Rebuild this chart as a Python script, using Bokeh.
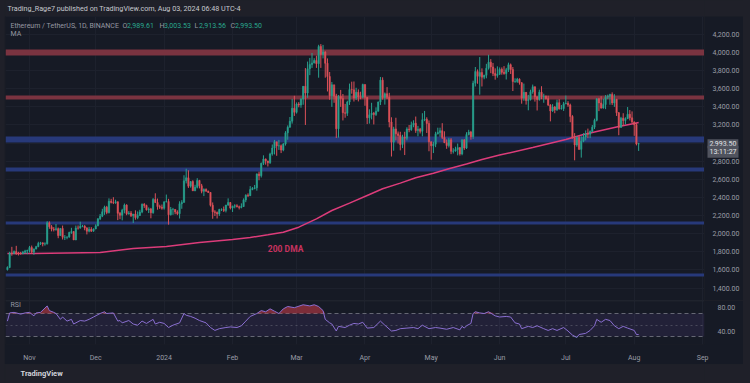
import pandas as pd
import numpy as np
from bokeh.plotting import figure
from bokeh.layouts import column, row
from bokeh.models import (ColumnDataSource, Range1d, FixedTicker, NumeralTickFormatter,
                          Label, Span, GlobalInlineStyleSheet)
from bokeh.core.properties import value
from bokeh.embed import file_html
from bokeh.resources import INLINE

# ---------------- data: ETH/USDT daily candles (high, low, close) ----------------
first_open = 1604.0
oct_2023 = [(1640, 1593, 1628), (1800, 1620, 1786), (1855, 1757, 1785), (1815, 1773, 1803),
            (1866, 1766, 1782), (1800, 1760, 1778), (1800, 1770, 1777), (1810, 1775, 1795),
            (1822, 1782, 1810), (1824, 1774, 1815)]
nov_2023 = [(1865, 1792, 1847), (1869, 1776, 1797), (1836, 1767, 1832), (1866, 1826, 1857),
            (1911, 1851, 1893), (1910, 1875, 1899), (1904, 1860, 1886), (1905, 1868, 1888),
            (2138, 1880, 2121), (2136, 2054, 2077), (2095, 2026, 2051), (2073, 2025, 2045),
            (2107, 2033, 2055), (2068, 1950, 1979), (2062, 1975, 2058), (2090, 1936, 1960),
            (1985, 1930, 1960), (1972, 1939, 1963), (2022, 1955, 2013), (2065, 1998, 2023),
            (2028, 1930, 1931), (2090, 1929, 2063), (2091, 2045, 2062), (2132, 2055, 2081),
            (2097, 2072, 2084), (2094, 2038, 2063), (2072, 1992, 2028), (2075, 2015, 2048),
            (2072, 2020, 2028), (2058, 2022, 2052)]
dec_2023 = [(2104, 2050, 2087), (2170, 2082, 2165), (2218, 2150, 2193), (2275, 2183, 2242),
            (2309, 2208, 2293), (2307, 2215, 2233), (2390, 2223, 2358), (2385, 2334, 2345),
            (2403, 2327, 2341), (2375, 2330, 2353), (2355, 2150, 2225), (2240, 2160, 2203),
            (2275, 2147, 2260), (2333, 2225, 2316), (2325, 2204, 2220), (2250, 2210, 2228),
            (2250, 2185, 2197), (2217, 2118, 2217), (2258, 2155, 2178), (2246, 2160, 2201),
            (2264, 2195, 2239), (2333, 2226, 2326), (2337, 2285, 2311), (2320, 2255, 2264),
            (2290, 2228, 2274), (2285, 2170, 2232), (2393, 2220, 2378), (2446, 2338, 2345),
            (2388, 2265, 2300), (2320, 2273, 2292), (2322, 2265, 2281)]
jan_2024 = [(2355, 2265, 2352), (2432, 2345, 2355), (2385, 2100, 2210), (2295, 2200, 2268),
            (2285, 2208, 2268), (2270, 2215, 2240), (2258, 2205, 2221), (2358, 2168, 2330),
            (2370, 2275, 2345), (2645, 2345, 2584), (2717, 2555, 2617), (2700, 2505, 2525),
            (2580, 2508, 2575), (2590, 2472, 2473), (2540, 2470, 2512), (2613, 2500, 2587),
            (2594, 2500, 2529), (2550, 2446, 2468), (2500, 2415, 2489), (2500, 2460, 2470),
            (2475, 2450, 2455), (2460, 2300, 2314), (2345, 2165, 2241), (2260, 2195, 2235),
            (2245, 2168, 2218), (2275, 2196, 2267), (2280, 2250, 2268), (2300, 2240, 2257),
            (2318, 2235, 2317), (2390, 2307, 2344), (2350, 2268, 2283)]
feb_2024 = [(2310, 2240, 2304), (2325, 2280, 2309), (2325, 2290, 2297), (2310, 2268, 2290),
            (2335, 2280, 2300), (2390, 2295, 2373), (2435, 2348, 2425), (2445, 2405, 2420),
            (2525, 2415, 2487), (2515, 2480, 2500), (2538, 2490, 2507), (2665, 2475, 2660),
            (2685, 2590, 2640), (2785, 2620, 2777), (2865, 2758, 2825), (2830, 2762, 2803),
            (2805, 2742, 2784), (2894, 2770, 2880), (2985, 2862, 2945), (3035, 2875, 3015),
            (3015, 2860, 2969), (3035, 2925, 2970), (2985, 2890, 2923), (3000, 2910, 2991),
            (3132, 2973, 3113), (3195, 3037, 3175), (3288, 3170, 3242), (3488, 3215, 3385),
            (3522, 3300, 3340)]
mar_2024 = [(3449, 3326, 3432), (3452, 3395, 3420), (3495, 3390, 3487), (3630, 3423, 3627),
            (3828, 3200, 3553), (3900, 3500, 3820), (3940, 3750, 3867), (3995, 3830, 3885),
            (3937, 3880, 3912), (3965, 3830, 3877), (4085, 3722, 4066), (4093, 3830, 3979),
            (4084, 3935, 4005), (4014, 3722, 3881), (3935, 3570, 3735), (3785, 3478, 3523),
            (3675, 3400, 3644), (3611, 3445, 3518), (3544, 3056, 3158), (3530, 3060, 3516),
            (3587, 3400, 3492), (3542, 3250, 3335), (3433, 3280, 3329), (3468, 3300, 3454),
            (3657, 3421, 3591), (3678, 3545, 3588), (3680, 3459, 3497), (3611, 3475, 3561),
            (3593, 3460, 3509), (3567, 3484, 3507), (3656, 3494, 3647)]
apr_2024 = [(3647, 3412, 3505), (3505, 3210, 3279), (3373, 3215, 3312), (3445, 3262, 3329),
            (3344, 3206, 3317), (3395, 3300, 3351), (3459, 3349, 3454), (3730, 3420, 3695),
            (3726, 3480, 3503), (3559, 3425, 3545), (3618, 3485, 3505), (3555, 3174, 3233),
            (3285, 2852, 3010), (3180, 2916, 3157), (3280, 3030, 3102), (3128, 2995, 3084),
            (3125, 2920, 2985), (3092, 2945, 3065), (3125, 2868, 3054), (3175, 3030, 3156),
            (3200, 3120, 3148), (3237, 3135, 3201), (3252, 3175, 3219), (3293, 3113, 3138),
            (3190, 3075, 3154), (3168, 3106, 3130), (3330, 3075, 3257), (3355, 3242, 3263),
            (3285, 3112, 3216), (3250, 2910, 3014)]
may_2024 = [(3020, 2817, 2970), (3015, 2890, 2988), (3125, 2955, 3103), (3170, 3095, 3117),
            (3170, 3070, 3137), (3220, 3045, 3063), (3130, 3000, 3005), (3040, 2937, 2973),
            (3058, 2952, 3036), (3055, 2878, 2910), (2944, 2885, 2912), (2960, 2905, 2930),
            (2995, 2865, 2950), (2955, 2862, 2881), (3040, 2866, 3037), (3042, 2925, 2945),
            (3120, 2935, 3094), (3147, 3085, 3122), (3135, 3038, 3071), (3689, 3046, 3662),
            (3840, 3625, 3790), (3813, 3655, 3737), (3950, 3535, 3779), (3825, 3625, 3728),
            (3755, 3705, 3748), (3875, 3715, 3826), (3975, 3811, 3893), (3927, 3772, 3841),
            (3885, 3740, 3768), (3825, 3700, 3747), (3847, 3722, 3760)]
jun_2024 = [(3835, 3752, 3814), (3835, 3755, 3781), (3850, 3755, 3767), (3830, 3702, 3810),
            (3888, 3785, 3865), (3878, 3763, 3812), (3840, 3575, 3680), (3715, 3665, 3680),
            (3720, 3665, 3706), (3715, 3645, 3667), (3672, 3435, 3497), (3657, 3467, 3560),
            (3563, 3425, 3469), (3532, 3362, 3480), (3590, 3470, 3566), (3646, 3545, 3622),
            (3625, 3458, 3512), (3515, 3360, 3482), (3590, 3468, 3562), (3628, 3485, 3515),
            (3545, 3445, 3518), (3525, 3480, 3491), (3523, 3410, 3420), (3430, 3240, 3354),
            (3430, 3345, 3398), (3410, 3330, 3368), (3480, 3355, 3446), (3485, 3370, 3378),
            (3420, 3370, 3381), (3455, 3355, 3434)]
jul_2024 = [(3525, 3430, 3440), (3463, 3400, 3420), (3435, 3230, 3295), (3308, 3050, 3058),
            (3110, 2810, 2980), (3075, 2960, 3063), (3080, 2925, 2931), (3075, 2840, 3021),
            (3110, 3010, 3066), (3140, 3030, 3101), (3160, 3055, 3098), (3140, 3055, 3129),
            (3200, 3120, 3176), (3270, 3155, 3251), (3495, 3240, 3489), (3500, 3353, 3443),
            (3518, 3380, 3387), (3490, 3380, 3425), (3530, 3375, 3507), (3535, 3485, 3517),
            (3545, 3423, 3536), (3560, 3420, 3443), (3540, 3400, 3483), (3488, 3300, 3335),
            (3343, 3087, 3173), (3290, 3170, 3275), (3330, 3190, 3249), (3285, 3205, 3270),
            (3398, 3265, 3319), (3365, 3250, 3279), (3350, 3220, 3232)]
aug_2024 = [(3240, 3080, 3203), (3220, 2975, 2989.61), (3003.53, 2913.56, 2993.50)]

month_blocks = [("2023-10-22", oct_2023), ("2023-11-01", nov_2023), ("2023-12-01", dec_2023),
                ("2024-01-01", jan_2024), ("2024-02-01", feb_2024), ("2024-03-01", mar_2024),
                ("2024-04-01", apr_2024), ("2024-05-01", may_2024), ("2024-06-01", jun_2024),
                ("2024-07-01", jul_2024), ("2024-08-01", aug_2024)]

# 200-day moving average
dma_dates = ["2023-10-22", "2023-11-03", "2023-12-03", "2023-12-18", "2024-01-02", "2024-01-17",
             "2024-02-01", "2024-02-09", "2024-02-17", "2024-02-24", "2024-03-02", "2024-03-10",
             "2024-03-17", "2024-03-25", "2024-04-02", "2024-04-09", "2024-04-17", "2024-04-24",
             "2024-05-02", "2024-05-09", "2024-05-17", "2024-05-24", "2024-06-01", "2024-06-16",
             "2024-07-01", "2024-07-09", "2024-07-17", "2024-07-25", "2024-08-01", "2024-08-03"]
dma_values = [1781, 1781, 1792, 1837, 1859, 1903, 1936, 1958, 1988, 2017, 2072, 2164,
              2256, 2337, 2422, 2496, 2558, 2617, 2668, 2716, 2770, 2820, 2868, 2951,
              3040, 3095, 3139, 3183, 3216, 3227]

# RSI(14)
rsi_dates = ["2023-10-22", "2023-10-23", "2023-10-25", "2023-10-28", "2023-10-30",
             "2023-11-01", "2023-11-03", "2023-11-04", "2023-11-06", "2023-11-09", "2023-11-10",
             "2023-11-12", "2023-11-13", "2023-11-15", "2023-11-16", "2023-11-18", "2023-11-20",
             "2023-11-21", "2023-11-24", "2023-11-26", "2023-11-28", "2023-11-30",
             "2023-12-03", "2023-12-05", "2023-12-06", "2023-12-09", "2023-12-11", "2023-12-12",
             "2023-12-13", "2023-12-16", "2023-12-18", "2023-12-20", "2023-12-22", "2023-12-24",
             "2023-12-27", "2023-12-28", "2023-12-30",
             "2024-01-01", "2024-01-03", "2024-01-05", "2024-01-08", "2024-01-10", "2024-01-11",
             "2024-01-13", "2024-01-15", "2024-01-17", "2024-01-20", "2024-01-22", "2024-01-24",
             "2024-01-26", "2024-01-29", "2024-01-31",
             "2024-02-03", "2024-02-05", "2024-02-07", "2024-02-09", "2024-02-12", "2024-02-14",
             "2024-02-16", "2024-02-18", "2024-02-20", "2024-02-22", "2024-02-24", "2024-02-26",
             "2024-02-29",
             "2024-03-04", "2024-03-07", "2024-03-09", "2024-03-11", "2024-03-13", "2024-03-14",
             "2024-03-16", "2024-03-17", "2024-03-19", "2024-03-20", "2024-03-23", "2024-03-25",
             "2024-03-27", "2024-03-29", "2024-03-31",
             "2024-04-02", "2024-04-05", "2024-04-08", "2024-04-10", "2024-04-13", "2024-04-15",
             "2024-04-17", "2024-04-20", "2024-04-23", "2024-04-25", "2024-04-27", "2024-04-30",
             "2024-05-03", "2024-05-05", "2024-05-08", "2024-05-11", "2024-05-14", "2024-05-15",
             "2024-05-16", "2024-05-17", "2024-05-19", "2024-05-20", "2024-05-21", "2024-05-23",
             "2024-05-25", "2024-05-27", "2024-05-30",
             "2024-06-01", "2024-06-04", "2024-06-06", "2024-06-08", "2024-06-10", "2024-06-11",
             "2024-06-14", "2024-06-16", "2024-06-18", "2024-06-21", "2024-06-23", "2024-06-25",
             "2024-06-27", "2024-06-30",
             "2024-07-02", "2024-07-04", "2024-07-06", "2024-07-07", "2024-07-10", "2024-07-12",
             "2024-07-14", "2024-07-15", "2024-07-17", "2024-07-19", "2024-07-21", "2024-07-23",
             "2024-07-25", "2024-07-27", "2024-07-29",
             "2024-08-01", "2024-08-02", "2024-08-03"]
rsi_values = [57, 71, 72, 69, 71,
              72, 66, 71, 72, 83, 75, 72, 70, 60, 64, 57, 60, 52, 58, 57, 60, 64,
              70, 73, 70, 71, 57, 58, 54, 58, 52, 50, 57, 53, 60, 52, 55,
              53, 46, 50, 54, 70, 67, 65, 62, 58, 54, 46, 41, 44, 46, 47,
              46, 49, 57, 65, 70, 75, 73, 78, 74, 70, 78, 82, 80,
              85, 83, 85, 82, 75, 60, 54, 52, 40, 48, 46, 50, 53, 52, 55,
              45, 46, 57, 50, 40, 41, 44, 45, 46, 44, 50, 44,
              46, 45, 43, 46, 42, 48, 45, 49, 53, 70, 73, 71, 70, 73, 66,
              64, 65, 64, 54, 52, 44, 48, 46, 49, 44, 41, 44, 41, 46,
              40, 33, 29, 34, 36, 41, 49, 60, 55, 60, 58, 49, 44, 48, 45,
              41, 34, 34]

# horizontal supply / demand zones (price bounds)
zone_low = [3970, 3485, 3012, 2688, 2102, 1530]
zone_high = [4030, 3520, 3078, 2732, 2138, 1563]
zone_kind = ["resistance", "resistance", "support", "support", "support", "support"]

price_ticks = list(range(1400, 4401, 200))
month_ticks = ["2023-11-01", "2023-12-01", "2024-01-01", "2024-02-01", "2024-03-01", "2024-04-01",
               "2024-05-01", "2024-06-01", "2024-07-01", "2024-08-01", "2024-09-01"]
month_labels = ["Nov", "Dec", "2024", "Feb", "Mar", "Apr", "May", "Jun", "Jul", "Aug", "Sep"]
countdown = "13:11:27"

# ---------------- build ----------------
def ms(t):
    return int(pd.Timestamp(t).value // 10**6)

dates, highs, lows, closes = [], [], [], []
for start, rows in month_blocks:
    for i, (h, l, c) in enumerate(rows):
        dates.append(ms(pd.Timestamp(start) + pd.Timedelta(days=i)))
        highs.append(h)
        lows.append(l)
        closes.append(c)
opens = [first_open] + closes[:-1]

UP, DOWN = "#28a08e", "#dc5159"
colors = [UP if c >= o else DOWN for o, c in zip(opens, closes)]
candles = ColumnDataSource(dict(
    x=dates, high=highs, low=lows,
    top=[max(o, c) for o, c in zip(opens, closes)],
    bottom=[min(o, c) for o, c in zip(opens, closes)],
    color=colors))

W = 739
AXW = 39
PANEL = "#161a25"
FRAME = "#1f2029"
FONT = "Roboto"
AXIS_TXT = "#9a9da6"
GRID = "#1d212d"
DAY = 86400000
FS = "7px"

x_range = Range1d(ms("2023-10-21 03:00"), ms("2024-09-01 20:00"))
price_range = Range1d(1262.7, 4397.4)
month_ms = [ms(d) for d in month_ticks]

# header strip
header = figure(width=W, height=16, x_range=(0, 1), y_range=(0, 1), toolbar_location=None,
                output_backend="svg", x_axis_location=None, y_axis_location=None, min_border=0,
                background_fill_color=FRAME, border_fill_color=FRAME, outline_line_color=None)
header.grid.visible = False
header.add_layout(Label(x=2, y=8, x_units="screen", y_units="screen",
                        text="Trading_Rage7 published on TradingView.com, Aug 03, 2024 06:48 UTC-4",
                        text_font=FONT, text_font_size="7.2px", text_color="#c6c8ce",
                        text_baseline="middle"))

# price panel (plot area)
p1 = figure(width=W - AXW, height=284, x_range=x_range, y_range=price_range,
            x_axis_location=None, y_axis_location=None, toolbar_location=None,
            output_backend="svg", min_border_left=1, min_border_right=0, min_border_top=0,
            min_border_bottom=0, background_fill_color=PANEL, border_fill_color=PANEL,
            outline_line_color=None)
p1.xgrid.ticker = FixedTicker(ticks=month_ms)
p1.ygrid.ticker = FixedTicker(ticks=price_ticks)
p1.grid.grid_line_color = GRID

zone_colors = ["#7a3340" if k == "resistance" else "#27397a" for k in zone_kind]
p1.hstrip(y0=zone_low, y1=zone_high, fill_color=zone_colors, line_color=None)

p1.line([ms(d) for d in dma_dates], dma_values, line_color="#dc3c7a", line_width=1.5)
p1.segment(x0="x", y0="low", x1="x", y1="high", color="color", line_width=1, source=candles)
p1.vbar(x="x", width=0.62 * DAY, top="top", bottom="bottom", fill_color="color",
        line_color="color", line_width=0.5, source=candles)

p1.text(x=[ms("2024-02-17")], y=[1831], text=["200 DMA"], text_font=value(FONT),
        text_font_size="8.5px", text_font_style="bold", text_color="#c8325f",
        text_baseline="middle", text_align="left")

legend_y = 275
p1.add_layout(Label(x=5, y=legend_y, x_units="screen", y_units="screen",
                    text="Ethereum / TetherUS, 1D, BINANCE", text_font=FONT,
                    text_font_size=FS, text_color="#9598a1", text_baseline="middle"))
ohlc_names = ["O", "H", "L", "C"]
ohlc_vals = [opens[-1], highs[-1], lows[-1], closes[-1]]
ohlc_x = [117, 154, 189, 225]
for nm, v, xx in zip(ohlc_names, ohlc_vals, ohlc_x):
    p1.add_layout(Label(x=xx, y=legend_y, x_units="screen", y_units="screen", text=nm,
                        text_font=FONT, text_font_size=FS, text_color="#9598a1",
                        text_baseline="middle"))
    p1.add_layout(Label(x=xx + 4.5, y=legend_y, x_units="screen", y_units="screen",
                        text=f"{v:,.2f}", text_font=FONT, text_font_size=FS,
                        text_color="#2aa88f", text_baseline="middle"))
p1.add_layout(Label(x=5, y=legend_y - 8, x_units="screen", y_units="screen", text="MA",
                    text_font=FONT, text_font_size=FS, text_color="#9598a1",
                    text_baseline="middle"))

# price scale column (labels + last-price tag)
pax = figure(width=AXW, height=284, x_range=Range1d(0, AXW), y_range=price_range,
             x_axis_location=None, y_axis_location=None, toolbar_location=None,
             output_backend="svg", min_border=0, background_fill_color=PANEL,
             border_fill_color=PANEL, outline_line_color=None)
pax.grid.visible = False
# ticks inside the visible range; 3,000 sits under the last-price tag
shown_ticks = [t for t in price_ticks
               if price_range.start + 60 < t < price_range.end - 60 and t != 3000]
pax.text(x=[8] * len(shown_ticks), y=shown_ticks, text=[f"{t:,.2f}" for t in shown_ticks],
         text_font=value(FONT), text_font_size=FS, text_color=AXIS_TXT,
         text_baseline="middle", text_align="left")
pax.add_layout(Label(x=3, y=closes[-1], x_units="screen", y_units="data",
                     text=f"{closes[-1]:,.2f}", text_font=FONT, text_font_size=FS,
                     text_color="#e6e7eb", text_baseline="middle",
                     background_fill_color="#50535e", padding=2))
pax.add_layout(Label(x=3, y=closes[-1], y_offset=-8, x_units="screen", y_units="data",
                     text=countdown, text_font=FONT, text_font_size=FS,
                     text_color="#e6e7eb", text_baseline="middle",
                     background_fill_color="#50535e", padding=2))

# RSI panel
p2 = figure(width=W, height=64, x_range=x_range, y_range=Range1d(16.9, 92.3),
            y_axis_location="right", toolbar_location=None, output_backend="svg",
            min_border_left=1, min_border_right=AXW, min_border_top=0, min_border_bottom=15,
            background_fill_color=PANEL, border_fill_color=PANEL, outline_line_color=None)
p2.xgrid.ticker = FixedTicker(ticks=month_ms)
p2.ygrid.visible = False
p2.xgrid.grid_line_color = GRID
p2.xaxis.ticker = FixedTicker(ticks=month_ms)
p2.xaxis.major_label_overrides = dict(zip(month_ms, month_labels))
p2.xaxis.axis_line_color = None
p2.xaxis.major_tick_line_color = None
p2.xaxis.minor_tick_line_color = None
p2.xaxis.major_label_standoff = 3
p2.xaxis.major_label_text_font = FONT
p2.xaxis.major_label_text_font_size = FS
p2.xaxis.major_label_text_color = AXIS_TXT
p2.yaxis.ticker = FixedTicker(ticks=[40, 80])
p2.yaxis.formatter = NumeralTickFormatter(format="0.00")
p2.yaxis.axis_line_color = None
p2.yaxis.major_tick_line_color = None
p2.yaxis.minor_tick_line_color = None
p2.yaxis.major_label_standoff = 7
p2.yaxis.major_label_text_font = FONT
p2.yaxis.major_label_text_font_size = FS
p2.yaxis.major_label_text_color = AXIS_TXT

p2.add_layout(Span(location=91.9, dimension="width", line_color="#2a2e3a", line_width=1))
p2.hstrip(y0=[30], y1=[70], fill_color="#7e57c2", fill_alpha=0.12, line_color=None)
p2.hspan(y=[70, 30], line_color="#787b86", line_dash="4 3", line_width=1, line_alpha=0.8)
p2.hspan(y=[50], line_color="#787b86", line_dash="2 3", line_width=1, line_alpha=0.45)

rsi_x = [ms(d) for d in rsi_dates]
rsi_arr = np.array(rsi_values, dtype=float)
p2.varea(x=rsi_x, y1=[70] * len(rsi_x), y2=np.maximum(rsi_arr, 70), fill_color="#c23a48",
         fill_alpha=0.6)
p2.varea(x=rsi_x, y1=np.minimum(rsi_arr, 30), y2=[30] * len(rsi_x), fill_color="#26a69a",
         fill_alpha=0.5)
p2.line(rsi_x, rsi_values, line_color="#8a6fd1", line_width=1)
p2.add_layout(Label(x=5, y=40, x_units="screen", y_units="screen",
                    text="RSI", text_font=FONT, text_font_size=FS, text_color="#9598a1",
                    text_baseline="middle"))

# footer strip
footer = figure(width=W, height=19, x_range=(0, 1), y_range=(0, 1), toolbar_location=None,
                output_backend="svg", x_axis_location=None, y_axis_location=None, min_border=0,
                background_fill_color=FRAME, border_fill_color=FRAME, outline_line_color=None)
footer.grid.visible = False
footer.add_layout(Label(x=15, y=10, x_units="screen", y_units="screen", text="TradingView",
                        text_font=FONT, text_font_size="7.5px", text_font_style="bold",
                        text_color="#d1d4dc", text_baseline="middle"))

p = column(header, row(p1, pax, spacing=0), p2, footer, spacing=0, margin=(0, 0, 0, 4),
           stylesheets=[GlobalInlineStyleSheet(css="body{background-color:#1f2029;}")])

open("out.html", "w").write(file_html(p, INLINE))
